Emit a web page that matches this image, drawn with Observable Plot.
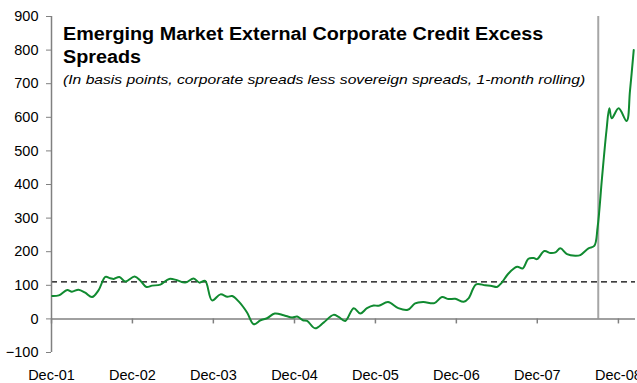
<!DOCTYPE html>
<html>
<head>
<meta charset="utf-8">
<script src="https://cdn.jsdelivr.net/npm/d3@7"></script>
<script src="https://cdn.jsdelivr.net/npm/@observablehq/plot@0.6"></script>
<style>
  html, body { margin: 0; padding: 0; background: #fff; overflow: hidden; }
  #wrap { position: relative; width: 637px; height: 383px; font-family: "Liberation Sans", Arial, sans-serif; }
  #title { position: absolute; left: 63px; top: 23px; font-weight: bold; font-size: 17.5px; line-height: 23px; color: #000; white-space: nowrap; transform: scaleX(1.13); transform-origin: left top; }
  #subtitle { position: absolute; left: 63px; top: 72px; font-style: italic; font-size: 13.5px; color: #000; white-space: nowrap; transform: scaleX(1.16); transform-origin: left top; }
</style>
</head>
<body>
<div id="wrap">
  <div id="chart"></div>
  <div id="title">Emerging Market External Corporate Credit Excess<br>Spreads</div>
  <div id="subtitle">(In basis points, corporate spreads less sovereign spreads, 1-month rolling)</div>
</div>
<script>
const dates = [
  "2001-12-04","2002-01-03","2002-02-10","2002-03-03","2002-04-02","2002-05-02","2002-06-02","2002-07-01",
  "2002-08-01","2002-08-23","2002-09-08","2002-10-03","2002-10-30","2002-12-11","2003-01-07","2003-02-02",
  "2003-02-28","2003-04-06","2003-05-16","2003-06-20","2003-07-27","2003-09-03","2003-09-29","2003-10-25",
  "2003-11-25","2004-01-02","2004-02-02","2004-02-24","2004-03-24","2004-05-01","2004-05-31","2004-07-01",
  "2004-07-30","2004-09-03","2004-10-13","2004-11-20","2004-12-13","2005-01-08","2005-01-27","2005-03-04",
  "2005-04-11","2005-05-26","2005-06-18","2005-07-18","2005-08-25","2005-09-24","2005-10-24","2005-11-23",
  "2005-12-16","2006-01-27","2006-03-14","2006-04-26","2006-05-29","2006-07-05","2006-08-24","2006-09-27",
  "2006-10-27","2006-11-26","2007-01-03","2007-01-26","2007-02-28","2007-04-10","2007-05-10","2007-06-02",
  "2007-06-24","2007-07-24","2007-09-01","2007-09-26","2007-10-22","2007-11-15","2007-11-30","2008-01-02",
  "2008-01-30","2008-02-21","2008-03-14","2008-04-13","2008-05-20","2008-06-12","2008-07-19","2008-08-14",
  "2008-08-29","2008-09-18","2008-10-08","2008-10-21","2008-11-01","2008-12-02","2009-01-07","2009-01-22",
  "2009-02-08"
];
const spreads = [
  68, 70, 86, 81, 87, 78, 65, 85,
  125, 121, 119, 125, 111, 126, 113, 95,
  99, 102, 119, 115, 108, 120, 108, 113,
  55, 73, 66, 68, 52, 19, -16, -4,
  2, 16, 11, 4, 7, -4, -6, -28,
  -11, 12, 6, -6, 32, 16, 32, 40,
  39, 50, 32, 27, 46, 50, 47, 65,
  59, 60, 51, 62, 103, 100, 98, 95,
  108, 135, 155, 150, 179, 181, 178, 202,
  196, 198, 210, 193, 188, 190, 210, 217,
  272, 420, 560, 627, 597, 627, 589, 678,
  800
];
const xTickDates = ["2001-12-01","2002-12-01","2003-12-01","2004-12-01","2005-12-01","2006-12-01","2007-12-01","2008-12-01"];
const yTicks = [-100, 0, 100, 200, 300, 400, 500, 600, 700, 800, 900];
const thresholdValue = 110;
const eventDate = "2008-09-01";
const xStart = "2001-12-01";
const xEnd = "2009-02-16";

const parse = d3.utcParse("%Y-%m-%d");
const data = dates.map((d, i) => ({date: parse(d), value: spreads[i]}));
const xTicks = xTickDates.map(parse);

const chart = Plot.plot({
  width: 637,
  height: 383,
  marginLeft: 51,
  marginRight: 2,
  marginTop: 16,
  marginBottom: 31,
  style: {fontFamily: "'Liberation Sans', Arial, sans-serif", fontSize: "14px", background: "white", overflow: "visible"},
  x: {type: "utc", domain: [parse(xStart), parse(xEnd)]},
  y: {domain: [-100, 900]},
  marks: [
    Plot.ruleX([parse(eventDate)], {y1: 0, y2: 900, stroke: "#a6a6a6", strokeWidth: 2}),
    Plot.ruleY([thresholdValue], {stroke: "#000", strokeWidth: 1.2, strokeDasharray: "6,4"}),
    Plot.ruleY([0], {stroke: "#808080", strokeWidth: 1.5}),
    Plot.ruleX(xTicks, {x: d => d, y1: 0, y2: -15, stroke: "#808080", strokeWidth: 1.5}),
    Plot.ruleX([parse(xStart)], {y1: -100, y2: 900, stroke: "#808080", strokeWidth: 1.5}),
    Plot.axisY({ticks: yTicks, tickSize: 5, tickPadding: 8, stroke: "#808080", fill: "#000", label: null, fontSize: 14.5}),
    Plot.axisX({ticks: xTicks, tickSize: 0, tickPadding: 17, tickFormat: d3.utcFormat("%b-%y"), fill: "#000", label: null, fontSize: 14.5}),
    Plot.line(data, {x: "date", y: "value", stroke: "#108a30", strokeWidth: 2, curve: "catmull-rom"})
  ]
});
document.getElementById("chart").appendChild(chart);
</script>
</body>
</html>
